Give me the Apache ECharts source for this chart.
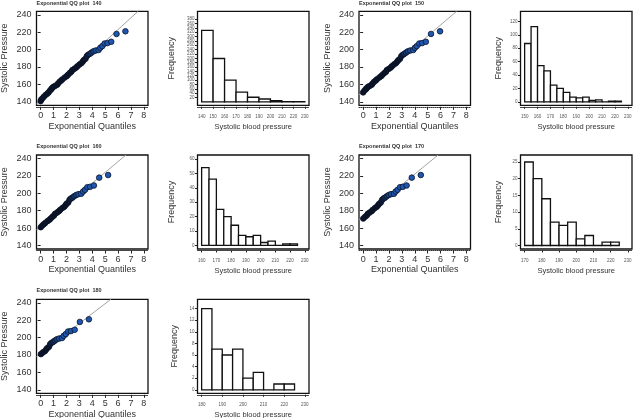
<!DOCTYPE html>
<html lang="en">
<head>
  <meta charset="UTF-8">
  <title>Exponential QQ plots</title>
  <style>
    * { padding: 0; margin: 0; }
    html, body { width: 100%; height: 100%; background: #fff; }
    #chart { width: 639px; height: 418px; }
  </style>
  <script src="https://cdn.jsdelivr.net/npm/echarts@6/dist/echarts.min.js"></script>
</head>
<body>
  <div id="chart"></div>
  <script>
    // thresholds
    var thresholds = [140, 150, 160, 170, 180];

    // QQ points: [exponential quantile, systolic pressure]
    var qq140 = [[0.00,140.8],[0.05,142.5],[0.14,144],[0.26,146],[0.40,148],[0.53,149.5],[0.62,150.8],[0.73,153],[0.83,154.5],[0.87,155.5],[0.97,157],[1.09,158],[1.27,159.5],[1.35,161],[1.47,163],[1.59,164.5],[1.69,165.8],[1.87,168],[2.02,169.5],[2.12,171],[2.25,173],[2.38,174.5],[2.46,176.5],[2.62,178],[2.76,179.5],[2.86,181],[3.02,183],[3.17,184.5],[3.28,186.5],[3.35,188],[3.48,189.5],[3.58,192.5],[3.68,194],[3.80,195],[3.93,196.5],[4.09,198],[4.27,199],[4.49,199.5],[4.62,202],[4.78,204],[4.96,207],[5.18,207.5],[5.47,209],[5.88,218],[6.57,221]];
    var qq150 = [[0.00,150.8],[0.11,153],[0.22,154.5],[0.26,155.5],[0.36,157],[0.48,158],[0.66,159.5],[0.73,161],[0.85,163],[0.98,164.5],[1.07,165.8],[1.26,168],[1.40,169.5],[1.50,171],[1.64,173],[1.77,174.5],[1.84,176.5],[2.00,178],[2.15,179.5],[2.24,181],[2.40,183],[2.55,184.5],[2.66,186.5],[2.74,188],[2.86,189.5],[2.96,192.5],[3.07,194],[3.18,195],[3.32,196.5],[3.47,198],[3.65,199],[3.88,199.5],[4.01,202],[4.16,204],[4.35,207],[4.57,207.5],[4.86,209],[5.26,218],[5.96,221]];
    var qq160 = [[0.01,161],[0.13,163],[0.25,164.5],[0.35,165.8],[0.53,168],[0.68,169.5],[0.78,171],[0.91,173],[1.04,174.5],[1.12,176.5],[1.28,178],[1.42,179.5],[1.52,181],[1.68,183],[1.83,184.5],[1.94,186.5],[2.01,188],[2.14,189.5],[2.24,192.5],[2.34,194],[2.46,195],[2.59,196.5],[2.75,198],[2.93,199],[3.15,199.5],[3.29,202],[3.44,204],[3.62,207],[3.84,207.5],[4.13,209],[4.54,218],[5.23,221]];
    var qq170 = [[0.01,171],[0.15,173],[0.28,174.5],[0.36,176.5],[0.51,178],[0.66,179.5],[0.75,181],[0.91,183],[1.06,184.5],[1.17,186.5],[1.25,188],[1.37,189.5],[1.47,192.5],[1.58,194],[1.69,195],[1.83,196.5],[1.98,198],[2.16,199],[2.39,199.5],[2.52,202],[2.67,204],[2.86,207],[3.08,207.5],[3.37,209],[3.77,218],[4.47,221]];
    var qq180 = [[0.02,181],[0.18,183],[0.34,184.5],[0.44,186.5],[0.52,188],[0.65,189.5],[0.74,192.5],[0.85,194],[0.97,195],[1.10,196.5],[1.25,198],[1.44,199],[1.66,199.5],[1.79,202],[1.95,204],[2.13,207],[2.35,207.5],[2.64,209],[3.04,218],[3.74,221]];

    // grey reference line of each QQ plot (where it enters and leaves the box)
    var line140 = [[-0.32,137.7],[7.55,244]];
    var line150 = [[-0.32,147.9],[7.24,244]];
    var line160 = [[-0.32,158],[6.61,244]];
    var line170 = [[-0.32,169.6],[5.81,244]];
    var line180 = [[-0.32,178.4],[5.44,244]];

    // histograms: bin breaks and counts
    var breaks140 = [140,150,160,170,180,190,200,210,220,230];
    var counts140 = [328,199,100,45,21,13,5,1,1];
    var breaks150 = [150,155,160,165,170,175,180,185,190,195,200,205,210,215,220,225];
    var counts150 = [87,112,54,46,25,20,14,7,6,7,2,3,0,1,1];
    var breaks160 = [160,165,170,175,180,185,190,195,200,205,210,215,220,225];
    var counts160 = [54,46,25,20,14,7,6,7,2,3,0,1,1];
    var breaks170 = [170,175,180,185,190,195,200,205,210,215,220,225];
    var counts170 = [25,20,14,7,6,7,2,3,0,1,1];
    var breaks180 = [180,185,190,195,200,205,210,215,220,225];
    var counts180 = [14,7,6,7,2,3,0,1,1];

    // tick labels
    var qqXTicks = [0,1,2,3,4,5,6,7,8];
    var qqYTicks = [140,160,180,200,220,240];
    var histXTicks140 = [140,150,160,170,180,190,200,210,220,230];
    var histXTicks150 = [150,160,170,180,190,200,210,220,230];
    var histXTicks160 = [160,170,180,190,200,210,220,230];
    var histXTicks170 = [170,180,190,200,210,220,230];
    var histXTicks180 = [180,190,200,210,220,230];
    var histYTicks140 = [0,20,40,60,80,100,120,140,160,180,200,220,240,260,280,300,320,340,360,380,400];
    var histYTicks150 = [0,20,40,60,80,100,120];
    var histYTicks160 = [0,10,20,30,40,50,60];
    var histYTicks170 = [0,5,10,15,20,25];
    var histYTicks180 = [0,2,4,6,8,10,12,14];

    var qqSets = [qq140, qq150, qq160, qq170, qq180];
    var refLines = [line140, line150, line160, line170, line180];
    var breakSets = [breaks140, breaks150, breaks160, breaks170, breaks180];
    var countSets = [counts140, counts150, counts160, counts170, counts180];
    var histXTickSets = [histXTicks140, histXTicks150, histXTicks160, histXTicks170, histXTicks180];
    var histYTickSets = [histYTicks140, histYTicks150, histYTicks160, histYTicks170, histYTicks180];

    // layout
    var FONT = 'Liberation Sans, Arial, sans-serif';
    var colLeft = [36.5, 197.5, 359, 520.5];
    var rowTop = [11.3, 155, 299.3];
    var boxW = 111.5, boxH = 94;
    var slot = [[0, 0], [0, 2], [1, 0], [1, 2], [2, 0]];   // [row, col] of each QQ plot
    var histYRange = [[-16, 416], [-5.2, 135], [-2.5, 62.8], [-1.05, 27.1], [-0.6, 15.6]];
    var histNameGap = [21, 17, 21, 17, 18];
    var darkUntil = [3.4, 2.8, 2.1, 1.3, 0.6];   // where overlapping points stop looking black

    function renderBar(params, api) {
      var lo = api.coord([api.value(0), 0]);
      var hi = api.coord([api.value(1), api.value(2)]);
      return {
        type: 'rect',
        shape: { x: lo[0], y: hi[1], width: hi[0] - lo[0], height: lo[1] - hi[1] },
        style: { fill: '#fff', stroke: '#111', lineWidth: 1.3 }
      };
    }

    function gridAt(row, col) {
      return {
        left: colLeft[col], top: rowTop[row], width: boxW, height: boxH,
        show: true, borderColor: '#111', borderWidth: 1.3,
        containLabel: false, outerBoundsMode: 'none'
      };
    }

    var grids = [], xAxes = [], yAxes = [], series = [], visualMaps = [], titles = [];

    thresholds.forEach(function (u, i) {
      var row = slot[i][0], col = slot[i][1];

      // ---- QQ plot
      var g = grids.length;
      grids.push(gridAt(row, col));
      xAxes.push({
        gridIndex: g, type: 'value', min: -0.32, max: 8.32, offset: 1.5,
        splitLine: { show: false },
        axisLine: { show: true, onZero: false, lineStyle: { color: '#333', width: 1, type: 'dotted' } },
        axisTick: { show: true, customValues: qqXTicks, length: 3, lineStyle: { color: '#222' } },
        axisLabel: { customValues: qqXTicks, fontSize: 9, color: '#333', margin: 4.5, fontFamily: FONT },
        name: 'Exponential Quantiles', nameLocation: 'middle', nameGap: 15,
        nameTextStyle: { fontSize: 9, color: '#333', fontFamily: FONT }
      });
      yAxes.push({
        gridIndex: g, type: 'value', min: 136, max: 244,
        splitLine: { show: false },
        axisLine: { show: false },
        axisTick: { show: true, customValues: qqYTicks, length: 3, lineStyle: { color: '#222' } },
        axisLabel: { customValues: qqYTicks, fontSize: 9, color: '#333', margin: 5, fontFamily: FONT },
        name: 'Systolic Pressure', nameLocation: 'middle', nameGap: 27,
        nameTextStyle: { fontSize: 9, color: '#333', fontFamily: FONT }
      });
      series.push({
        type: 'line', xAxisIndex: g, yAxisIndex: g, data: refLines[i],
        symbol: 'none', silent: true, z: 2,
        lineStyle: { color: '#a3a3a3', width: 1 }
      });
      visualMaps.push({
        type: 'continuous', show: false, seriesIndex: series.length, dimension: 0,
        min: darkUntil[i], max: darkUntil[i] + 1,
        inRange: { color: ['#0b1226', '#1f57b0'] }
      });
      series.push({
        type: 'scatter', xAxisIndex: g, yAxisIndex: g, data: qqSets[i],
        symbolSize: 5.6, silent: true, z: 3,
        itemStyle: { borderColor: '#0a1428', borderWidth: 0.8, opacity: 1 }
      });
      titles.push({
        text: 'Exponential QQ plot  ' + u,
        left: colLeft[col], top: Math.max(0, rowTop[row] - 11.5), padding: 0,
        textStyle: { fontSize: 5.5, fontWeight: 'bold', color: '#333', fontFamily: FONT }
      });

      // ---- histogram
      var h = grids.length;
      grids.push(gridAt(row, col + 1));
      var br = breakSets[i];
      var bars = countSets[i].map(function (c, j) { return [br[j], br[j + 1], c]; });
      xAxes.push({
        gridIndex: h, type: 'value', min: u - (230 - u) * 0.04, max: 230 + (230 - u) * 0.04, offset: 1.5,
        splitLine: { show: false },
        axisLine: { show: true, onZero: false, lineStyle: { color: '#333', width: 1, type: 'dotted' } },
        axisTick: { show: true, customValues: histXTickSets[i], length: 2, lineStyle: { color: '#222' } },
        axisLabel: { customValues: histXTickSets[i], fontSize: 4.5, color: '#555', margin: 7.5, fontFamily: FONT },
        name: 'Systolic blood pressure', nameLocation: 'middle', nameGap: 16.5,
        nameTextStyle: { fontSize: 7.5, color: '#333', fontFamily: FONT }
      });
      yAxes.push({
        gridIndex: h, type: 'value', min: histYRange[i][0], max: histYRange[i][1],
        splitLine: { show: false },
        axisLine: { show: false },
        axisTick: { show: true, customValues: histYTickSets[i], length: 2.5, lineStyle: { color: '#222' } },
        axisLabel: { customValues: histYTickSets[i], fontSize: 4.5, color: '#555', margin: 3, fontFamily: FONT },
        name: 'Frequency', nameLocation: 'middle', nameGap: histNameGap[i],
        nameTextStyle: { fontSize: 9, color: '#333', fontFamily: FONT }
      });
      series.push({
        type: 'custom', xAxisIndex: h, yAxisIndex: h, data: bars,
        renderItem: renderBar, encode: { x: [0, 1], y: 2 }, silent: true, clip: true
      });
    });

    var chart = echarts.init(document.getElementById('chart'), null, { renderer: 'canvas' });
    chart.setOption({
      backgroundColor: '#fff',
      animation: false,
      title: titles,
      grid: grids,
      xAxis: xAxes,
      yAxis: yAxes,
      visualMap: visualMaps,
      series: series
    });
  </script>
</body>
</html>
